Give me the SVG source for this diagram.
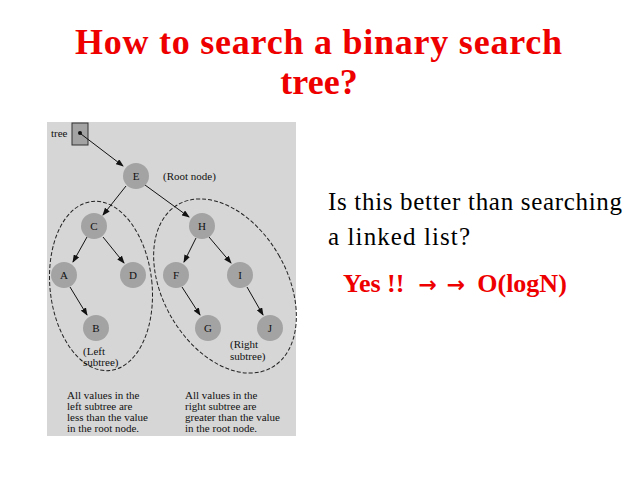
<svg xmlns="http://www.w3.org/2000/svg" width="638" height="478" viewBox="0 0 638 478">
<style>
.n circle{fill:#a3a3a3}
.n text,.lab{font-family:"Liberation Serif",serif;font-size:11px;fill:#111}
.n text{text-anchor:middle}
.e{stroke:#111;stroke-width:1;fill:none;marker-end:url(#ah)}
.d{stroke:#222;stroke-width:1;fill:none;stroke-dasharray:4,2}
</style>
<defs><marker id="ah" markerWidth="8" markerHeight="6" refX="7" refY="3" orient="auto" markerUnits="userSpaceOnUse"><path d="M0,0L8,3L0,6z" fill="#111"/></marker></defs>
<rect width="638" height="478" fill="#fff"/>
<text x="75" y="54" textLength="487" font-family="Liberation Serif,serif" font-weight="bold" font-size="36" fill="#e00">How to search a binary search</text>
<text x="319" y="94" text-anchor="middle" font-family="Liberation Serif,serif" font-weight="bold" font-size="36" fill="#e00">tree?</text>
<rect x="47" y="122" width="249" height="314" fill="#d6d6d6"/>
<g id="tree"><rect x="72" y="123" width="16" height="22" fill="#a3a3a3" stroke="#333"/><circle cx="80" cy="133" r="2" fill="#111"/><text class="lab" x="51" y="137">tree</text></g>
<ellipse class="d" cx="101" cy="286" rx="51" ry="85" transform="rotate(-6 101 286)"/>
<ellipse class="d" cx="225" cy="286" rx="62" ry="94" transform="rotate(-30 225 286)"/>
<g id="connectors">
<line class="e" x1="81" y1="134" x2="123" y2="166"/>
<line class="e" x1="126" y1="186" x2="103" y2="215"/>
<line class="e" x1="145" y1="185" x2="189" y2="217"/>
<line class="e" x1="87" y1="237" x2="73" y2="262"/>
<line class="e" x1="103" y1="237" x2="124" y2="263"/>
<line class="e" x1="196" y1="238" x2="184" y2="262"/>
<line class="e" x1="209" y1="237" x2="231" y2="263"/>
<line class="e" x1="70" y1="287" x2="87" y2="315"/>
<line class="e" x1="182" y1="287" x2="200" y2="315"/>
<line class="e" x1="247" y1="287" x2="263" y2="315"/>
</g>
<g id="E" class="n"><circle cx="136" cy="176" r="13"/><text x="136" y="180">E</text></g>
<g id="C" class="n"><circle cx="94" cy="226" r="13"/><text x="94" y="230">C</text></g>
<g id="H" class="n"><circle cx="202" cy="226" r="13"/><text x="202" y="230">H</text></g>
<g id="A" class="n"><circle cx="64" cy="275" r="13"/><text x="64" y="279">A</text></g>
<g id="D" class="n"><circle cx="133" cy="275" r="13"/><text x="133" y="279">D</text></g>
<g id="F" class="n"><circle cx="176" cy="275" r="13"/><text x="176" y="279">F</text></g>
<g id="I" class="n"><circle cx="240" cy="275" r="13"/><text x="240" y="279">I</text></g>
<g id="B" class="n"><circle cx="96" cy="328" r="13"/><text x="96" y="332">B</text></g>
<g id="G" class="n"><circle cx="208" cy="328" r="13"/><text x="208" y="332">G</text></g>
<g id="J" class="n"><circle cx="270" cy="328" r="13"/><text x="270" y="332">J</text></g>
<text class="lab" x="163" y="180">(Root node)</text>
<text class="lab" x="83" y="355">(Left</text><text class="lab" x="83" y="366">subtree)</text>
<text class="lab" x="230" y="348">(Right</text><text class="lab" x="230" y="360">subtree)</text>
<text class="lab" x="67" y="399">All values in the</text>
<text class="lab" x="67" y="410">left subtree are</text>
<text class="lab" x="67" y="421">less than the value</text>
<text class="lab" x="67" y="432">in the root node.</text>
<text class="lab" x="185" y="399">All values in the</text>
<text class="lab" x="185" y="410">right subtree are</text>
<text class="lab" x="185" y="421">greater than the value</text>
<text class="lab" x="185" y="432">in the root node.</text>
<text x="328" y="210" textLength="294" font-family="Liberation Serif,serif" font-size="25" fill="#000">Is this better than searching</text>
<text x="328" y="245" textLength="142" font-family="Liberation Serif,serif" font-size="25" fill="#000">a linked list?</text>
<text x="343" y="292" font-family="Liberation Serif,serif" font-weight="bold" font-size="26" fill="#e00">Yes !!<tspan font-family="DejaVu Sans,sans-serif" font-size="22" dx="14">→</tspan><tspan font-family="DejaVu Sans,sans-serif" font-size="22" dx="10">→</tspan><tspan dx="12">O(logN)</tspan></text>
</svg>
